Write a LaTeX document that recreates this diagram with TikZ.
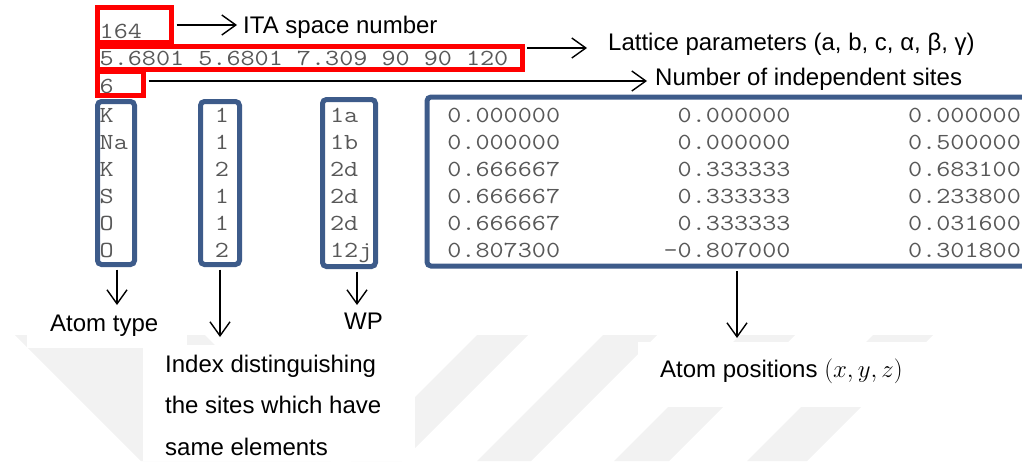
\documentclass[tikz,border=0pt]{standalone}
\usepackage{graphicx}
\usepackage{fontspec}
\setmainfont{Liberation Sans}
\usetikzlibrary{arrows.meta}
\definecolor{frame}{RGB}{61,91,138}
\definecolor{codegray}{RGB}{88,88,88}
\definecolor{markgray}{RGB}{242,242,242}
% typewriter text widened to the 14.4pt character pitch of the listing
\newcommand\codetext[1]{\scalebox{1.19}[1]{\ttfamily\fontsize{23}{27}\selectfont #1}}

\begin{document}
\begin{tikzpicture}[x=1pt,y=-1pt,
  redbox/.style={draw=red, line width=5pt, inner sep=0pt},
  bluebox/.style={draw=frame, line width=5pt, rounded corners=4pt, inner sep=0pt},
  cell/.style={text=codegray, anchor=base west, inner sep=0pt},
  num/.style={cell, anchor=base east},
  caption/.style={font=\fontsize{24}{29}\selectfont, anchor=base west, inner sep=0pt},
  pointer/.style={-{Straight Barb[length=14pt,width=20pt]}, line width=1.4pt},
]
\useasboundingbox (0,0) rectangle (1022,461);

% faint striped logo in the background
\fill[markgray] (15,335) -- (205,335) -- (331,461) -- (141,461) -- cycle;
\fill[markgray] (477,335) -- (528,335) -- (402,461) -- (351,461) -- cycle;
\fill[markgray] (603,335) -- (657,335) -- (531,461) -- (477,461) -- cycle;
\fill[markgray] (740,335) -- (795,335) -- (669,461) -- (614,461) -- cycle;
\fill[markgray] (873,335) -- (933,335) -- (807,461) -- (747,461) -- cycle;
% white patches behind the captions
\fill[white] (27,298) rectangle (187,348);
\fill[white] (143,345) rectangle (415,461);
\fill[white] (638,342) rectangle (965,407);

% header lines of the structure file
\node[cell] (sg) at (99.5,38.5) {\codetext{164}};
\node[cell] (lp) at (99.5,65) {\codetext{5.6801 5.6801 7.309 90 90 120}};
\node[cell] (ns) at (99.5,93) {\codetext{6}};

% site table
\foreach \el/\ix/\wp/\px/\py/\pz [count=\r from 0] in {
  K/1/1a/0.000000/0.000000/0.000000,
  Na/1/1b/0.000000/0.000000/0.500000,
  K/2/2d/0.666667/0.333333/0.683100,
  S/1/2d/0.666667/0.333333/0.233800,
  O/1/2d/0.666667/0.333333/0.031600,
  O/2/12j/0.807300/-0.807000/0.301800}{
  \pgfmathsetmacro\yb{122+27*\r}
  \node[cell] (el\r) at (99.5,\yb) {\codetext{\el}};
  \node[cell] (ix\r) at (99.5+8*14.4,\yb) {\codetext{\ix}};
  \node[cell] (wp\r) at (99.5+16*14.4,\yb) {\codetext{\wp}};
  \node[num] (px\r) at (99.5+32*14.4,\yb) {\codetext{\px}};
  \node[num] (py\r) at (99.5+48*14.4,\yb) {\codetext{\py}};
  \node[num] (pz\r) at (99.5+64*14.4,\yb) {\codetext{\pz}};
}

% arrow tips
\coordinate (tipIta) at (237,25);
\coordinate (tipLat) at (587,48);
\coordinate (tipNum) at (647,81);
\coordinate (tipType) at (117,305);
\coordinate (tipIdx) at (220,337);
\coordinate (tipWP) at (357,305);
\coordinate (tipPos) at (737,338);

% frames around the fields
\node[redbox, minimum width=74pt, minimum height=35pt] (b164) at (134.5,25) {};
\node[redbox, minimum width=424.5pt, minimum height=22.5pt] (blat) at (309.75,57.75) {};
\node[redbox, minimum width=46pt, minimum height=24.5pt] (bnum) at (120.5,83.25) {};
\node[bluebox, minimum width=37pt, minimum height=163pt] (bK) at (116,183) {};
\node[bluebox, minimum width=39pt, minimum height=163pt] (bIdx) at (220,183) {};
\node[bluebox, minimum width=53pt, minimum height=167pt] (bWP) at (349,183) {};
\node[bluebox, minimum width=603pt, minimum height=169pt] (bPos) at (728.5,181.5) {};

% captions
\node[caption] (lIta) at (243,33) {ITA space number};
\node[caption] (lLat) at (608,50) {Lattice parameters (a, b, c, α, β, γ)};
\node[caption] (lNum) at (655,85) {Number of independent sites};
\node[caption] (lType) at (50,331) {Atom type};
\node[caption] (lWP) at (344,329) {WP};
\node[caption] (lIdx1) at (165,372) {Index distinguishing};
\node[caption] (lIdx2) at (165,413) {the sites which have};
\node[caption] (lIdx3) at (165,455) {same elements};
\node[caption] (lPos) at (660,377) {Atom positions $(x,y,z)$};

% pointers from the frames to the captions
\draw[pointer] (b164.east |- tipIta) ++(2.5,0) -- (tipIta);
\draw[pointer] (blat.east |- tipLat) ++(2.5,0) -- (tipLat);
\draw[pointer] (bnum.east |- tipNum) ++(2.5,0) -- (tipNum);
\draw[pointer] (bK.south -| tipType) ++(0,2.5) -- (tipType);
\draw[pointer] (bIdx.south -| tipIdx) ++(0,2.5) -- (tipIdx);
\draw[pointer] (bWP.south -| tipWP) ++(0,2.5) -- (tipWP);
\draw[pointer] (bPos.south -| tipPos) ++(0,2.5) -- (tipPos);
\end{tikzpicture}
\end{document}
